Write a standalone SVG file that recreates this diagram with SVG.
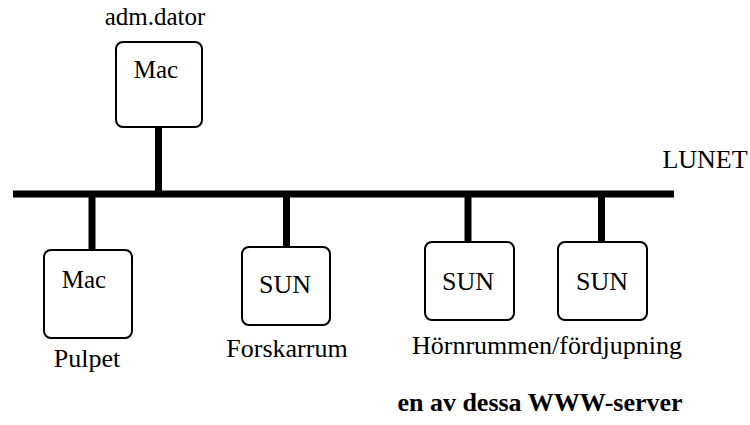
<svg xmlns="http://www.w3.org/2000/svg" width="750" height="425" viewBox="0 0 750 425">
<style>
.box{fill:#fff;stroke:#000;stroke-width:2}
.t{font-family:"Liberation Serif","Times New Roman",serif;font-size:26px;fill:#000;text-anchor:middle}
.b{font-weight:bold}
.w{stroke:#000;fill:none}
</style>
<rect width="750" height="425" fill="#fff"/>
<g id="connectors">
<line class="w" x1="13" y1="194" x2="674" y2="194" stroke-width="7"/>
<line class="w" x1="158.5" y1="126" x2="158.5" y2="194" stroke-width="7"/>
<line class="w" x1="92" y1="194" x2="92" y2="256" stroke-width="7"/>
<line class="w" x1="286.5" y1="194" x2="286.5" y2="252" stroke-width="7"/>
<line class="w" x1="468" y1="194" x2="468" y2="246" stroke-width="7"/>
<line class="w" x1="601.5" y1="194" x2="601.5" y2="248" stroke-width="7"/>
</g>
<g id="adm">
<rect class="box" x="116" y="42" width="86" height="85" rx="7"/>
<text class="t" x="156" y="78" style="font-size:25px">Mac</text>
<text class="t" x="155" y="25" style="font-size:25px">adm.dator</text>
</g>
<g id="pulpet">
<rect class="box" x="44" y="250" width="88" height="88" rx="7"/>
<text class="t" x="84" y="288" style="font-size:25px">Mac</text>
<text class="t" x="87" y="367">Pulpet</text>
</g>
<g id="forskarrum">
<rect class="box" x="242" y="247" width="88" height="78" rx="7"/>
<text class="t" x="285" y="293">SUN</text>
<text class="t" x="287" y="357">Forskarrum</text>
</g>
<g id="horn1">
<rect class="box" x="425" y="242" width="89" height="78" rx="7"/>
<text class="t" x="468" y="290">SUN</text>
</g>
<g id="horn2">
<rect class="box" x="558" y="242" width="89" height="78" rx="7"/>
<text class="t" x="602" y="290">SUN</text>
</g>
<text class="t" x="547" y="354">Hörnrummen/fördjupning</text>
<text class="t" x="705" y="168">LUNET</text>
<text class="t b" x="540" y="411">en av dessa WWW-server</text>
</svg>
